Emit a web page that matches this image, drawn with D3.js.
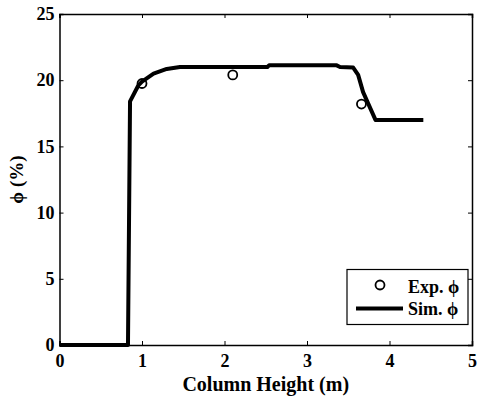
<!DOCTYPE html>
<html>
<head>
<meta charset="utf-8">
<script src="https://cdn.jsdelivr.net/npm/d3@7"></script>
<style>
  body { margin: 0; background: #fff; }
</style>
</head>
<body>
<div id="chart"></div>
<script>
// simulated porosity along column
const simHeight = [0, 0.83, 0.855, 0.955, 1.0, 1.14, 1.30, 1.46, 2.52, 2.54, 3.36, 3.40, 3.56, 3.62, 3.68, 3.83, 4.41];
const simPhi    = [0, 0, 18.4, 19.6, 19.9, 20.5, 20.85, 21.0, 21.0, 21.12, 21.12, 21.0, 20.95, 20.4, 19.1, 17.0, 17.0];

// experimental points
const expHeight = [1.0, 2.1, 3.66];
const expPhi    = [19.75, 20.4, 18.2];

const xTicks = [0, 1, 2, 3, 4, 5];
const yTicks = [0, 5, 10, 15, 20, 25];

const FONT = '"Liberation Serif", "Times New Roman", serif';

const W = 479, H = 398;
const margin = { top: 14, right: 7, bottom: 53, left: 59.5 };
const width = W - margin.left - margin.right,
      height = H - margin.top - margin.bottom;

const svg = d3.select("#chart").append("svg")
    .attr("width", W)
    .attr("height", H);

const g = svg.append("g")
    .attr("transform", `translate(${margin.left}, ${margin.top})`);

const x = d3.scaleLinear().domain([0, 5]).range([0, width]);
const y = d3.scaleLinear().domain([0, 25]).range([height, 0]);

// inward ticks on all four sides
g.append("g").attr("transform", `translate(0, ${height})`)
    .call(d3.axisBottom(x).tickValues(xTicks).tickSize(-4).tickPadding(9).tickFormat(d3.format("d")));
g.append("g")
    .call(d3.axisLeft(y).tickValues(yTicks).tickSize(-4).tickPadding(5).tickFormat(d3.format("d")));
g.append("g")
    .call(d3.axisTop(x).tickValues(xTicks).tickSize(-4).tickFormat(""));
g.append("g").attr("transform", `translate(${width}, 0)`)
    .call(d3.axisRight(y).tickValues(yTicks).tickSize(-4).tickFormat(""));

g.selectAll(".domain").attr("stroke", "#000").attr("stroke-width", 1.5);
g.selectAll(".tick line").attr("stroke", "#000");
g.selectAll(".tick text")
    .attr("fill", "#000")
    .style("font-family", FONT)
    .style("font-weight", "bold")
    .style("font-size", "18px");

// sim line
const simData = simHeight.map((h, i) => ({ h: h, p: simPhi[i] }));
const line = d3.line().x(d => x(d.h)).y(d => y(d.p));

g.append("path")
    .datum(simData)
    .attr("fill", "none")
    .attr("stroke", "#000")
    .attr("stroke-width", 4)
    .attr("stroke-linejoin", "round")
    .attr("d", line);

// exp points
g.selectAll(".exp")
    .data(expHeight.map((h, i) => ({ h: h, p: expPhi[i] })))
    .join("circle")
    .attr("class", "exp")
    .attr("cx", d => x(d.h))
    .attr("cy", d => y(d.p))
    .attr("r", 4.5)
    .attr("fill", "none")
    .attr("stroke", "#000")
    .attr("stroke-width", 1.8);

function label(sel, size) {
    return sel.style("font-family", FONT)
        .style("font-weight", "bold")
        .style("font-size", size + "px")
        .attr("fill", "#000");
}

// axis titles
label(svg.append("text"), 20)
    .attr("x", margin.left + width / 2)
    .attr("y", 391)
    .attr("text-anchor", "middle")
    .text("Column Height (m)");

label(svg.append("text"), 19)
    .attr("transform", `translate(23, ${margin.top + height / 2}) rotate(-90)`)
    .attr("text-anchor", "middle")
    .text("ϕ (%)");

// legend
const legend = svg.append("g").attr("transform", "translate(347, 269.5)");
legend.append("rect")
    .attr("width", 121)
    .attr("height", 55)
    .attr("fill", "#fff")
    .attr("stroke", "#000")
    .attr("stroke-width", 1.2);
legend.append("circle")
    .attr("cx", 33).attr("cy", 15.5).attr("r", 4.5)
    .attr("fill", "none").attr("stroke", "#000").attr("stroke-width", 1.8);
legend.append("line")
    .attr("x1", 9).attr("x2", 56).attr("y1", 39).attr("y2", 39)
    .attr("stroke", "#000").attr("stroke-width", 4);
label(legend.append("text"), 18).attr("x", 61).attr("y", 23).text("Exp. ϕ");
label(legend.append("text"), 18).attr("x", 61).attr("y", 45.5).text("Sim. ϕ");
</script>
</body>
</html>
